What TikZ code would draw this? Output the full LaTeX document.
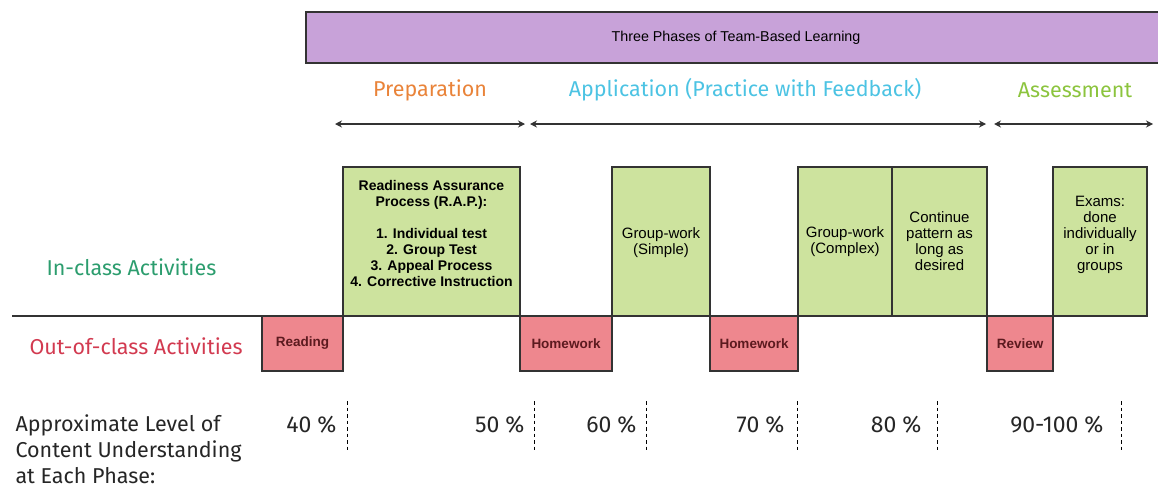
\documentclass[tikz,border=0pt]{standalone}
\usepackage{fontspec}
\setmainfont{Liberation Sans}
\newfontfamily\handfont{Fira Sans}
\usepackage{tikz}
\usetikzlibrary{positioning}
\usetikzlibrary{arrows.meta}
\definecolor{tbpurple}{HTML}{C8A2D9}
\definecolor{tbgreen}{HTML}{CDE39E}
\definecolor{tbpink}{HTML}{EE878E}
\definecolor{tbmaroon}{HTML}{5C1A1F}
\definecolor{boxline}{HTML}{333333}
\definecolor{tborange}{HTML}{E98339}
\definecolor{tbcyan}{HTML}{4CC3E3}
\definecolor{tbleaf}{HTML}{8CC43E}
\definecolor{tbteal}{HTML}{2C9D6E}
\definecolor{tbred}{HTML}{D23A50}
\tikzset{
	box/.style={draw=boxline,line width=1.3pt,inner sep=0pt,outer sep=0pt,align=center,
		font=\fontsize{15}{16}\selectfont},
	greenbox/.style={box,fill=tbgreen,minimum height=149pt},
	pinkbox/.style={box,fill=tbpink,minimum height=55pt,text=tbmaroon,
		font=\fontsize{13.5}{16}\selectfont\bfseries},
	hand/.style={font=\handfont\fontsize{21.5}{26}\selectfont},
	span/.style={{Stealth[length=7pt,width=7pt]}-{Stealth[length=7pt,width=7pt]},line width=1.2pt,draw=boxline}
}

\begin{document}
\begin{tikzpicture}[x=1pt,y=-1pt]
				\def\rowline{316};
				\def\spany{124};
				\def\phasey{90};
				\def\pcty{425};
				\useasboundingbox (0,0) rectangle (1158,488);
				\node[box,fill=tbpurple,minimum width=860pt,minimum height=51pt,anchor=north west,font=\fontsize{14.3}{18}\selectfont] (title) at (306,12) {Three Phases of Team-Based Learning};
				\coordinate (prepL) at (335,\spany);
				\coordinate (prepR) at (525,\spany);
				\coordinate (applL) at (530,\spany);
				\coordinate (applR) at (986,\spany);
				\coordinate (assL) at (994,\spany);
				\coordinate (assR) at (1153,\spany);
				\draw[span] (prepL) -- (prepR);
				\draw[span] (applL) -- (applR);
				\draw[span] (assL) -- (assR);
				\node[hand,text=tborange] (prep) at (430,\phasey) {Preparation};
				\node[hand,text=tbcyan] (appl) at (745,\phasey) {Application (Practice with Feedback)};
				\node[hand,text=tbleaf] (ass) at (1075,\phasey) {Assessment};
				\node[hand,text=tbteal,anchor=west] (inclass) at (43,267) {In-class Activities};
				\node[hand,text=tbred,anchor=west] (outclass) at (26,346) {Out-of-class Activities};
				\node[pinkbox,minimum width=81pt,anchor=north west] (reading) at (262,\rowline) {Reading};
				\node[greenbox,minimum width=177pt,anchor=south west,font=\fontsize{14}{16}\selectfont\bfseries] (rap) at (reading.north east) {Readiness Assurance\\Process (R.A.P.):\\[16pt]1. Individual test\\2. Group Test\\3. Appeal Process\\4. Corrective Instruction\\};
				\node[pinkbox,minimum width=92pt,anchor=north west] (hwA) at (rap.south east) {Homework};
				\node[greenbox,minimum width=98pt,anchor=south west] (simple) at (hwA.north east) {\\[-2pt]Group-work\\(Simple)};
				\node[pinkbox,minimum width=88pt,anchor=north west] (hwB) at (simple.south east) {Homework};
				\node[greenbox,minimum width=94pt,anchor=south west] (complex) at (hwB.north east) {Group-work\\(Complex)};
				\node[greenbox,minimum width=95pt,anchor=south west] (cont) at (complex.south east) {Continue\\pattern as\\long as\\desired};
				\node[pinkbox,minimum width=66pt,anchor=north west] (review) at (cont.south east) {Review};
				\node[greenbox,minimum width=94pt,anchor=south west] (exams) at (review.north east) {Exams:\\done\\individually\\or in\\groups\\};
				\coordinate (lineL) at (12,\rowline);
				\draw[line width=1.3pt,boxline] (lineL) -- (reading.north west);
				\foreach \p/\e/\d [count=\i] in {40/340/347,50/528/534,60/640/646,70/788/797,80/925/937,90-100/1107/1121}{
					\node[hand,font=\handfont\fontsize{23}{26}\selectfont,text=black!85,anchor=east] (pct\i) at (\e,\pcty) {\p\hspace{6pt}\%};
					\draw[black,line width=1pt,dash pattern=on 3.5pt off 3pt] (\d,401) -- (\d,451);
				}
				\node[hand,text=black!85,anchor=north west,align=left] (level) at (12,411) {Approximate Level of\\Content Understanding\\at Each Phase:};
			\end{tikzpicture}
\end{document}
